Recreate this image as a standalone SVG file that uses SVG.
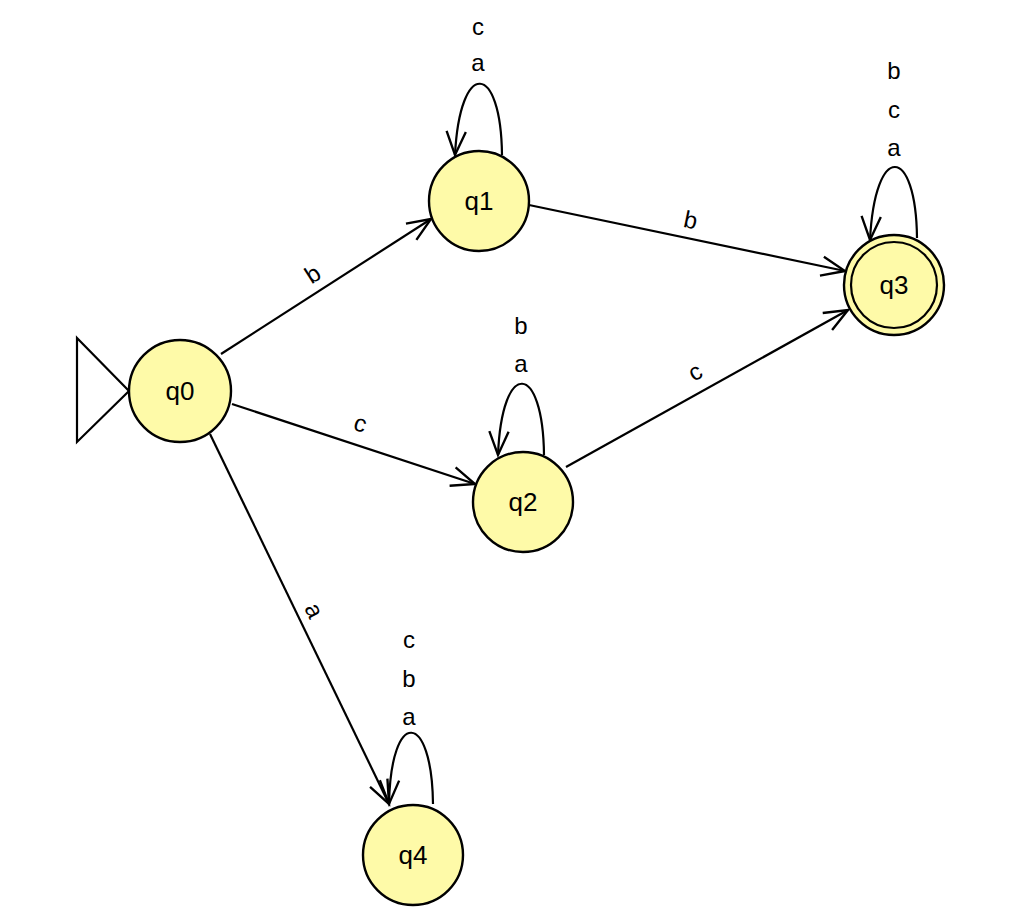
<svg xmlns="http://www.w3.org/2000/svg" width="1024" height="920" viewBox="0 0 1024 920">
<defs>
<marker id="arr" markerUnits="userSpaceOnUse" markerWidth="30" markerHeight="30" viewBox="-24 -12 28 24" refX="0" refY="0" orient="auto" overflow="visible">
<path d="M -22 -9 L 0 0 L -22 9" fill="none" stroke="#000" stroke-width="2.2"/>
</marker>
</defs>
<style>
.st{fill:#fefaa8;stroke:#000;stroke-width:2.4}
.e{fill:none;stroke:#000;stroke-width:2.2;marker-end:url(#arr)}
.t{font-family:"Liberation Sans",Arial,sans-serif;font-size:24px;fill:#000;text-anchor:middle}
.n{font-family:"Liberation Sans",Arial,sans-serif;font-size:26px;fill:#000;text-anchor:middle}
</style>
<rect width="1024" height="920" fill="#fff"/>
<g id="connectors">
<path d="M 77 338 L 129 391 L 77 442 Z" fill="none" stroke="#000" stroke-width="2.2"/>
<path class="e" d="M 221 354 L 431 219"/>
<path class="e" d="M 232 404 L 475 484"/>
<path class="e" d="M 210 434 L 389 804"/>
<path class="e" d="M 529 205 L 845 271"/>
<path class="e" d="M 566 467 L 848 310"/>
<path class="e" d="M 502 155 C 501 62 460 58 455 155"/>
<path class="e" d="M 917 238 C 916 145 875 141 870 240"/>
<path class="e" d="M 544 455 C 543 362 502 358 498 455"/>
<path class="e" d="M 433 804 C 432 711 391 707 389 804"/>
<text class="t" transform="translate(317,281) rotate(-32.7)">b</text>
<text class="t" transform="translate(358,431) rotate(18.2)">c</text>
<text class="t" transform="translate(307,614) rotate(64.2)">a</text>
<text class="t" transform="translate(689,228) rotate(11.8)">b</text>
<text class="t" transform="translate(699,379) rotate(-29.1)">c</text>
<text class="t" x="478" y="71">a</text>
<text class="t" x="478" y="35">c</text>
<text class="t" x="894" y="156">a</text>
<text class="t" x="894" y="118">c</text>
<text class="t" x="894" y="79">b</text>
<text class="t" x="521" y="372">a</text>
<text class="t" x="521" y="334">b</text>
<text class="t" x="409" y="725">a</text>
<text class="t" x="409" y="687">b</text>
<text class="t" x="409" y="648">c</text>
</g>
<g id="q0"><circle class="st" cx="180" cy="391" r="51"/><text class="n" x="180" y="400">q0</text></g>
<g id="q1"><circle class="st" cx="479" cy="201" r="50"/><text class="n" x="479" y="210">q1</text></g>
<g id="q2"><circle class="st" cx="523" cy="502" r="50"/><text class="n" x="523" y="511">q2</text></g>
<g id="q3"><circle class="st" cx="894" cy="285" r="50"/><circle cx="894" cy="285" r="43" fill="none" stroke="#000" stroke-width="2.2"/><text class="n" x="894" y="294">q3</text></g>
<g id="q4"><circle class="st" cx="413" cy="855" r="50"/><text class="n" x="413" y="864">q4</text></g>
</svg>
